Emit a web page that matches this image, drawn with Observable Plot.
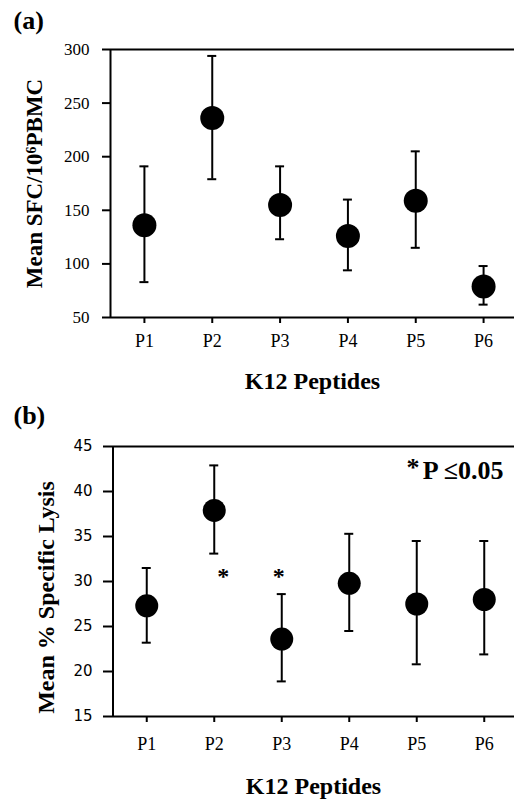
<!DOCTYPE html>
<html><head><meta charset="utf-8">
<script src="https://cdn.jsdelivr.net/npm/d3@7"></script>
<script src="https://cdn.jsdelivr.net/npm/@observablehq/plot@0.6"></script>
<style>body{margin:0;background:#fff;} #chart svg{display:block;}</style>
</head><body><div id="chart"></div>
<script>
const peptides = ["P1", "P2", "P3", "P4", "P5", "P6"];
const sfcMean = [136, 236, 155, 126, 159, 79];
const sfcLow = [83, 179, 123, 94, 115, 62];
const sfcHigh = [191, 294, 191, 160, 205, 98];
const lysisMean = [27.3, 37.9, 23.6, 29.8, 27.5, 28.0];
const lysisLow = [23.2, 33.1, 18.9, 24.5, 20.8, 21.9];
const lysisHigh = [31.5, 42.9, 28.6, 35.3, 34.5, 34.5];
const significant = [false, true, true, false, false, false];
const sfcTicks = [50, 100, 150, 200, 250, 300];
const lysisTicks = [15, 20, 25, 30, 35, 40, 45];
const xTitle = "K12 Peptides";

const SERIF = "Liberation Serif, Times New Roman, serif";

function rows(mean, low, high) {
  return peptides.map((p, i) => ({i: i + 1, name: p, mean: mean[i], low: low[i], high: high[i], sig: significant[i]}));
}

function panel(o) {
  const data = rows(o.mean, o.low, o.high);
  const yd = [o.ticks[0], o.ticks[o.ticks.length - 1]];
  const capOpts = {insetLeft: -4.5, insetRight: -4.5, strokeWidth: 2};
  return Plot.plot({
    width: 514,
    height: o.height,
    marginTop: o.marginTop,
    marginBottom: o.marginBottom,
    marginLeft: o.marginLeft,
    marginRight: 0,
    style: {background: "white", color: "black", fontFamily: SERIF},
    x: {type: "linear", domain: [0.5, 6.5], range: o.xRange},
    y: {domain: yd},
    marks: [
      Plot.ruleY(yd, {strokeWidth: 2}),
      Plot.ruleX([0.5], {y1: yd[0], y2: yd[1], strokeWidth: 2}),
      Plot.axisY({ticks: o.ticks, tickSize: o.yTickSize, tickPadding: o.yTickPadding, strokeWidth: 2,
        fontSize: o.yTickFontSize, fontFamily: o.yTickFont, label: null}),
      Plot.axisX({ticks: peptides.map((p, i) => i + 1), tickFormat: (d) => peptides[d - 1], tickSize: 6,
        tickPadding: o.xTickPadding, strokeWidth: 2, fontSize: 18, fontFamily: SERIF, label: null}),
      Plot.ruleX(data, {x: "i", y1: "low", y2: "high", strokeWidth: 2}),
      Plot.ruleY(data, {x1: "i", x2: "i", y: "low", ...capOpts}),
      Plot.ruleY(data, {x1: "i", x2: "i", y: "high", ...capOpts}),
      Plot.dot(data, {x: "i", y: "mean", r: o.r, fill: "black", stroke: "none"}),
      Plot.text([o.tag], {frameAnchor: "top-left", textAnchor: "start", lineAnchor: "bottom",
        dx: o.tagDx, dy: o.tagDy, fontSize: 26, fontWeight: "bold", fontFamily: SERIF}),
      Plot.text([o.yLabel], {frameAnchor: "left", rotate: -90, textAnchor: "middle", lineAnchor: "bottom",
        dx: o.yLabelDx, dy: o.yLabelDy, fontSize: o.yLabelSize, fontWeight: "bold", fontFamily: SERIF}),
      Plot.text([xTitle], {frameAnchor: "bottom", textAnchor: "middle", lineAnchor: "bottom",
        dy: o.xLabelDy, fontSize: 24, fontWeight: "bold", fontFamily: SERIF}),
      ...(o.extra ? o.extra(data) : [])
    ]
  });
}

const chart = document.getElementById("chart");

chart.append(panel({
  mean: sfcMean, low: sfcLow, high: sfcHigh, ticks: sfcTicks,
  height: 400, marginTop: 49, marginBottom: 83, marginLeft: 110, xRange: [110, 517],
  yTickSize: 8, yTickPadding: 13, yTickFontSize: 17, yTickFont: SERIF, xTickPadding: 11, r: 12,
  tag: "(a)", tagDx: -97, tagDy: -21,
  yLabel: "Mean SFC/10\u2076PBMC", yLabelSize: 23, yLabelDx: -69, yLabelDy: 0, xLabelDy: 71
}));

chart.append(panel({
  mean: lysisMean, low: lysisLow, high: lysisHigh, ticks: lysisTicks,
  height: 401, marginTop: 46, marginBottom: 85, marginLeft: 112, xRange: [112.5, 517.5],
  yTickSize: 9, yTickPadding: 11, yTickFontSize: 15, yTickFont: "DejaVu Sans, sans-serif", xTickPadding: 15, r: 11.5,
  tag: "(b)", tagDx: -99, tagDy: -23,
  yLabel: "Mean % Specific Lysis", yLabelSize: 24, yLabelDx: -59, yLabelDy: 16, xLabelDy: 77,
  extra: (data) => [
    Plot.text(data.filter((d) => d.sig && d.i === 2), {x: "i", y: 29.7, text: () => "*", dx: 9,
      lineAnchor: "bottom", fontSize: 24, fontWeight: "bold", fontFamily: SERIF}),
    Plot.text(data.filter((d) => d.sig && d.i === 3), {x: "i", y: 29.7, text: () => "*", dx: -3,
      lineAnchor: "bottom", fontSize: 24, fontWeight: "bold", fontFamily: SERIF}),
    Plot.text(["P \u22640.05"], {frameAnchor: "top-right", textAnchor: "end", lineAnchor: "bottom",
      dx: -11, dy: 32, fontSize: 26, fontWeight: "bold", fontFamily: SERIF}),
    Plot.text(["*"], {frameAnchor: "top-right", textAnchor: "middle", lineAnchor: "bottom",
      dx: -101.5, dy: 29, fontSize: 26, fontWeight: "bold", fontFamily: SERIF})
  ]
}));
</script>
</body></html>
